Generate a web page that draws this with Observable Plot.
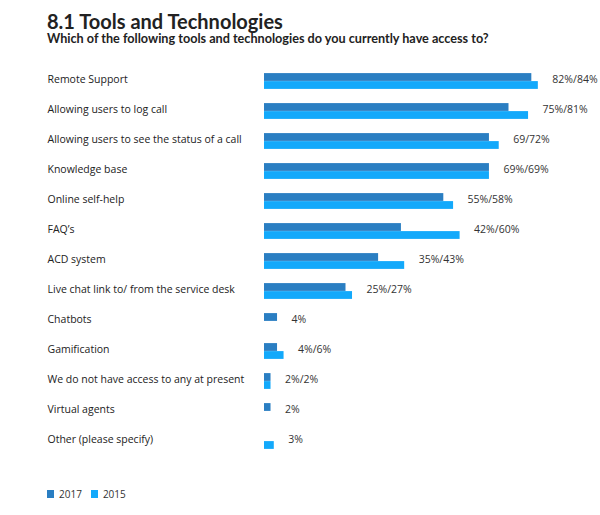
<!DOCTYPE html>
<html>
<head>
<meta charset="utf-8">
<script src="https://cdn.jsdelivr.net/npm/d3@7"></script>
<script src="https://cdn.jsdelivr.net/npm/@observablehq/plot@0.6"></script>
<style>
  body { margin: 0; background: #fff; width: 600px; height: 515px; position: relative; overflow: hidden; }
  #title { position: absolute; left: 47px; top: 10px; font-family: Lato, sans-serif; font-weight: 700; font-size: 20px; line-height: 22px; color: #222; white-space: nowrap; }
  #subtitle { position: absolute; left: 47px; top: 32px; font-family: Lato, sans-serif; font-weight: 700; font-size: 12.65px; line-height: 14px; color: #222; white-space: nowrap; }
  #chart { position: absolute; left: 0; top: 50px; }
  #legend { position: absolute; left: 47px; top: 487px; font-family: "Open Sans", sans-serif; font-size: 10px; color: #333; display: flex; align-items: center; }
  #legend .sw { width: 7px; height: 8px; display: inline-block; margin-right: 5px; }
  #legend .item { display: flex; align-items: center; margin-right: 9px; }
</style>
</head>
<body>
<div id="title">8.1 Tools and Technologies</div>
<div id="subtitle">Which of the following tools and technologies do you currently have access to?</div>
<div id="chart"></div>
<div id="legend"></div>
<script>
const categories = [
  "Remote Support",
  "Allowing users to log call",
  "Allowing users to see the status of a call",
  "Knowledge base",
  "Online self-help",
  "FAQ\u2019s",
  "ACD system",
  "Live chat link to/ from the service desk",
  "Chatbots",
  "Gamification",
  "We do not have access to any at present",
  "Virtual agents",
  "Other (please specify)"
];
const values2017 = [82, 75, 69, 69, 55, 42, 35, 25, 4, 4, 2, 2, null];
const values2015 = [84, 81, 72, 69, 58, 60, 43, 27, null, 6, 2, null, 3];
const valueLabels = ["82%/84%", "75%/81%", "69/72%", "69%/69%", "55%/58%", "42%/60%", "35%/43%", "25%/27%", "4%", "4%/6%", "2%/2%", "2%", "3%"];
const seriesNames = ["2017", "2015"];
const seriesColors = ["#2a7ec2", "#13a9fb"];

const rows = categories.map((c, i) => ({
  category: c,
  v2017: values2017[i],
  v2015: values2015[i],
  label: valueLabels[i]
}));

const chart = Plot.plot({
  width: 600,
  height: 420,
  marginLeft: 264,
  marginRight: 10,
  marginTop: 14,
  marginBottom: 13,
  style: { fontFamily: "'Open Sans', sans-serif", background: "transparent" },
  x: { domain: [0, 100], axis: null },
  y: { domain: categories, axis: null, padding: 0 },
  marks: [
    Plot.barX(rows.filter(d => d.v2017 != null), {
      x: "v2017", y: "category", fill: seriesColors[0], insetTop: 7.1, insetBottom: 15.1
    }),
    Plot.barX(rows.filter(d => d.v2015 != null), {
      x: "v2015", y: "category", fill: seriesColors[1], insetTop: 15.1, insetBottom: 7.1
    }),
    Plot.text(rows, {
      y: "category", text: "category", frameAnchor: "left", textAnchor: "start",
      dx: -217, dy: -2, fontSize: 10.5, fill: "#222"
    }),
    Plot.text(rows, {
      x: d => Math.max(d.v2017 ?? 0, d.v2015 ?? 0), y: "category", text: "label",
      textAnchor: "start", dx: 14, dy: -2, fontSize: 10.5, fill: "#333"
    })
  ]
});
document.getElementById("chart").appendChild(chart);

const legend = document.getElementById("legend");
seriesNames.forEach((name, i) => {
  const item = document.createElement("span");
  item.className = "item";
  const sw = document.createElement("span");
  sw.className = "sw";
  sw.style.background = seriesColors[i];
  item.appendChild(sw);
  item.appendChild(document.createTextNode(name));
  legend.appendChild(item);
});
</script>
</body>
</html>
